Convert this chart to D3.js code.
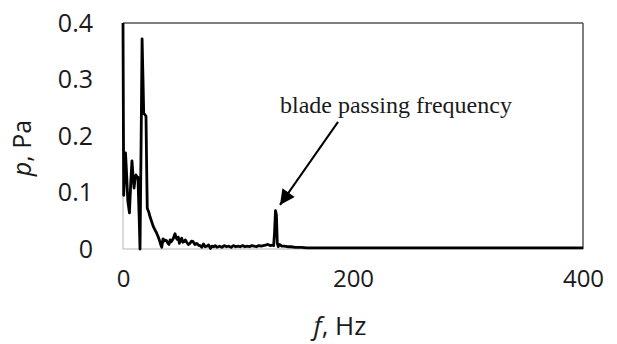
<!DOCTYPE html>
<html>
<head>
<meta charset="utf-8">
<script src="https://cdn.jsdelivr.net/npm/d3@7"></script>
<style>
  html, body { margin: 0; padding: 0; background: #fff; }
  svg { display: block; }
</style>
</head>
<body>
<svg id="chart" width="617" height="344"></svg>
<script>
// ---- data ----
const freq = [
  0, 0.6, 2.2, 3.2, 4.2, 5.6, 6.8, 7.8, 8.7, 9.6,
  10.5, 11.3, 12.2, 13, 14, 14.8, 15.8, 16.6, 17.4, 18,
  19, 20, 20.6, 21.1, 22.3, 23.5, 25, 26.3, 27.8, 29.3,
  30.5, 31.6, 32.6, 33.7, 34.8, 35.7, 36.5, 37.7, 38.8, 40,
  41, 42, 43.6, 45.2, 46.2, 47.2, 48.1, 49, 50, 51,
  52, 53, 54.2, 55.4, 56.8, 58.3, 59.6, 61, 62.5, 64,
  65.5, 67, 68.5, 70, 71.5, 73, 74.5, 76, 77.4, 78.8,
  80.2, 81.7, 84, 86, 88, 90, 92, 94, 96, 98,
  100, 102, 104, 106, 108, 110, 112, 114, 116, 118,
  120, 122, 124, 126, 128, 130, 131, 131.8, 132.6, 133.4,
  134.2, 135, 136, 138, 140, 143, 146, 150, 155, 160,
  170, 180, 190, 200, 220, 240, 260, 280, 300, 320,
  340, 360, 380, 400];
const pressure = [
  0.40, 0.095, 0.17, 0.13, 0.085, 0.064, 0.12, 0.156, 0.13, 0.108,
  0.125, 0.131, 0.126, 0.127, 0.06, 0.0, 0.2, 0.372, 0.30, 0.24,
  0.238, 0.235, 0.14, 0.072, 0.066, 0.057, 0.048, 0.040, 0.034, 0.028,
  0.022, 0.016, 0.009, 0.003, 0.018, 0.014, 0.016, 0.015, 0.011, 0.008,
  0.016, 0.013, 0.018, 0.027, 0.020, 0.017, 0.021, 0.010, 0.016, 0.019,
  0.012, 0.013, 0.016, 0.012, 0.008, 0.010, 0.014, 0.013, 0.008, 0.010,
  0.007, 0.006, 0.003, 0.009, 0.004, 0.005, 0.007, 0.001, 0.005, 0.004,
  0.006, 0.003, 0.005, 0.003, 0.006, 0.004, 0.005, 0.003, 0.006, 0.004,
  0.005, 0.004, 0.006, 0.004, 0.005, 0.004, 0.006, 0.005, 0.004, 0.006,
  0.005, 0.006, 0.007, 0.008, 0.006, 0.007, 0.006, 0.030, 0.068, 0.060,
  0.010, 0.004, 0.008, 0.005, 0.005, 0.004, 0.004, 0.003, 0.003, 0.002,
  0.002, 0.002, 0.002, 0.002, 0.002, 0.002, 0.002, 0.002, 0.002, 0.002,
  0.002, 0.002, 0.002, 0.002];
const xTicks = [0, 200, 400];
const yTicks = [0, 0.1, 0.2, 0.3, 0.4];
const xDomain = [0, 400];
const yDomain = [0, 0.4];
const annotationText = "blade passing frequency";
// annotation anchors in data units: [f, p]
const arrowTail = [187, 0.225];
const arrowTip = [136.5, 0.078];
const labelAnchor = [136.5, 0.241];

// ---- layout ----
const svg = d3.select("#chart");
const margin = { left: 123, top: 23, right: 34, bottom: 95 };
const W = 617, H = 344;
const iw = W - margin.left - margin.right;
const ih = H - margin.top - margin.bottom;

const x = d3.scaleLinear().domain(xDomain).range([0, iw]);
const y = d3.scaleLinear().domain(yDomain).range([ih, 0]);

const g = svg.append("g").attr("transform", `translate(${margin.left},${margin.top})`);

// frame
g.append("line").attr("x1", 0).attr("x2", 0).attr("y1", 0).attr("y2", ih)
  .attr("stroke", "#b5b5b5").attr("stroke-width", 1);
g.append("line").attr("x1", 0).attr("x2", iw).attr("y1", ih).attr("y2", ih)
  .attr("stroke", "#b5b5b5").attr("stroke-width", 1);
g.append("line").attr("x1", 0).attr("x2", iw).attr("y1", 0).attr("y2", 0)
  .attr("stroke", "#555").attr("stroke-width", 1.5);
g.append("line").attr("x1", iw).attr("x2", iw).attr("y1", 0).attr("y2", ih)
  .attr("stroke", "#555").attr("stroke-width", 1.5);

const tickFont = "'Open Sans', 'Noto Sans', sans-serif";

// axes
const xAxis = g.append("g").attr("transform", `translate(0,${ih})`)
  .call(d3.axisBottom(x).tickValues(xTicks).tickSize(0).tickPadding(21).tickFormat(d3.format("d")));
xAxis.select(".domain").remove();
xAxis.selectAll("text").attr("font-family", tickFont).attr("font-size", 24).attr("fill", "#1a1a1a");

const yAxis = g.append("g")
  .call(d3.axisLeft(y).tickValues(yTicks).tickSize(0).tickPadding(30).tickFormat(d => d === 0 ? "0" : d3.format(".1f")(d)));
yAxis.select(".domain").remove();
yAxis.selectAll("text").attr("font-family", tickFont).attr("font-size", 25).attr("fill", "#1a1a1a");

// data line
const pts = freq.map((f, i) => [f, pressure[i]]);
g.append("path").datum(pts)
  .attr("fill", "none").attr("stroke", "#000").attr("stroke-width", 2.8)
  .attr("stroke-linejoin", "round")
  .attr("d", d3.line().x(d => x(d[0])).y(d => y(d[1])));

// axis titles
const xt = svg.append("text").attr("x", 340).attr("y", 335)
  .attr("text-anchor", "middle").attr("font-family", tickFont).attr("font-size", 26).attr("fill", "#1a1a1a");
xt.append("tspan").attr("font-style", "italic").text("f");
xt.append("tspan").text(", Hz");

const yt = svg.append("text").attr("transform", "translate(31,148) rotate(-90)")
  .attr("text-anchor", "middle").attr("font-family", tickFont).attr("font-size", 25).attr("fill", "#1a1a1a");
yt.append("tspan").attr("font-style", "italic").text("p");
yt.append("tspan").text(", Pa");

// annotation
g.append("text").attr("x", x(labelAnchor[0])).attr("y", y(labelAnchor[1]))
  .attr("font-family", "'Liberation Serif', 'DejaVu Serif', serif").attr("font-size", 24).attr("fill", "#1a1a1a")
  .text(annotationText);

const defs = svg.append("defs");
defs.append("marker").attr("id", "ah").attr("viewBox", "0 0 10 10").attr("refX", 10).attr("refY", 5)
  .attr("markerWidth", 18).attr("markerHeight", 15).attr("markerUnits", "userSpaceOnUse").attr("orient", "auto")
  .append("path").attr("d", "M0,0 L10,5 L0,10 Z").attr("fill", "#000");

g.append("line")
  .attr("x1", x(arrowTail[0])).attr("y1", y(arrowTail[1]))
  .attr("x2", x(arrowTip[0])).attr("y2", y(arrowTip[1]))
  .attr("stroke", "#000").attr("stroke-width", 2).attr("marker-end", "url(#ah)");
</script>
</body>
</html>
